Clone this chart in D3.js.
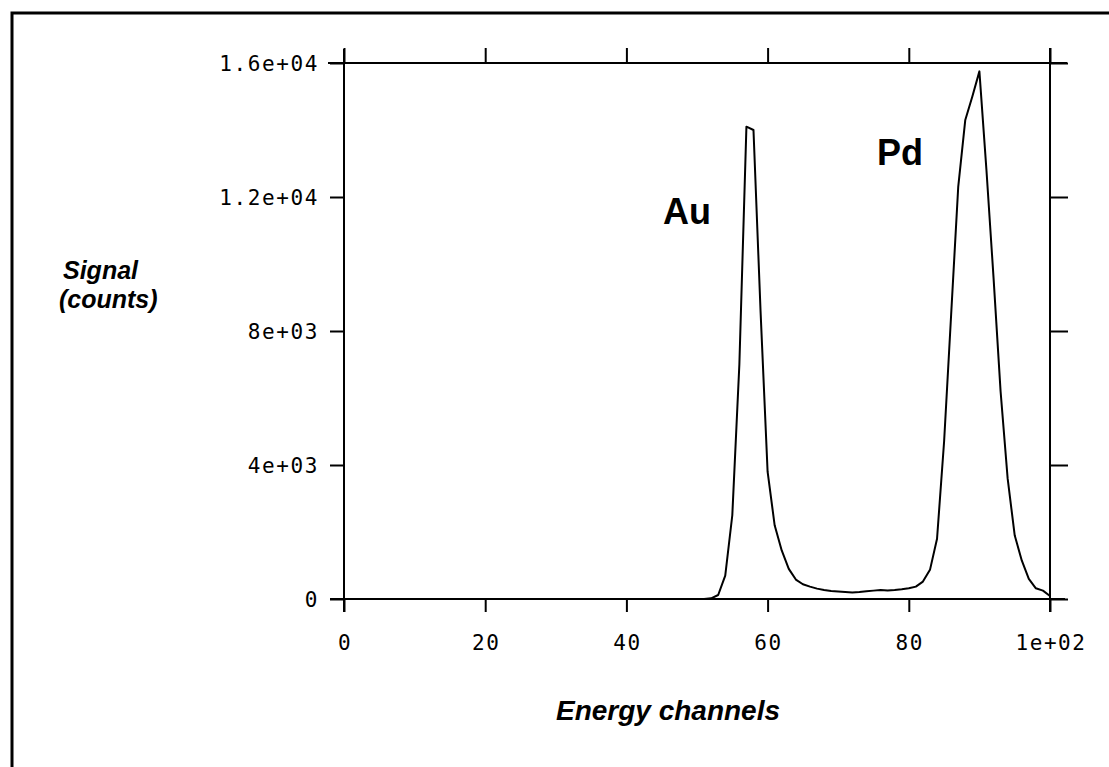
<!DOCTYPE html>
<html>
<head>
<meta charset="utf-8">
<script src="https://cdn.jsdelivr.net/npm/d3@7"></script>
<style>
  body { margin: 0; background: #fff; }
  svg { display: block; }
  .tickLabel { font-family: 'DejaVu Sans Mono', monospace; font-size: 21px; letter-spacing: 1.6px; fill: #000; }
  .axisTitle { font-family: 'Liberation Sans', Arial, sans-serif; font-weight: bold; font-style: italic; fill: #000; }
  .peakLabel { font-family: 'Liberation Sans', Arial, sans-serif; font-weight: bold; fill: #000; }
</style>
</head>
<body>
<div id="chart"></div>
<script>
// constants
const FRAME_WIDTH = 1109;
const FRAME_HEIGHT = 767;
const PLOT = {left: 344, right: 1050, top: 63, bottom: 599};
const TICK = 15;

// data
const channels = d3.range(0, 101);
const counts = [
  0, 0, 0, 0, 0, 0, 0, 0, 0, 0,
  0, 0, 0, 0, 0, 0, 0, 0, 0, 0,
  0, 0, 0, 0, 0, 0, 0, 0, 0, 0,
  0, 0, 0, 0, 0, 0, 0, 0, 0, 0,
  0, 0, 0, 0, 0, 0, 0, 0, 0, 0,
  0, 0, 20, 120, 700, 2500, 7000, 14100, 14000, 8600,
  3800, 2200, 1450, 900, 580, 440, 370, 310, 270, 240,
  225, 210, 195, 210, 230, 250, 270, 255, 270, 290,
  320, 370, 520, 870, 1800, 4700, 8500, 12300, 14300, 15000,
  15750, 12800, 9600, 6200, 3600, 1900, 1150, 600, 320, 250,
  90
];
const xTicks = [0, 20, 40, 60, 80, 100];
const xTickLabels = ['0', '20', '40', '60', '80', '1e+02'];
const yTicks = [0, 4000, 8000, 12000, 16000];
const yTickLabels = ['0', '4e+03', '8e+03', '1.2e+04', '1.6e+04'];
const peakLabels = [
  {text: 'Au', x: 45.2, y: 11200},
  {text: 'Pd', x: 75.5, y: 12950}
];

let svg = d3.select('#chart')
            .append('svg')
            .attr('width', FRAME_WIDTH)
            .attr('height', FRAME_HEIGHT);

// outer frame, runs off the right and bottom edges
svg.append('rect')
   .attr('x', 12)
   .attr('y', 13)
   .attr('width', FRAME_WIDTH + 20)
   .attr('height', FRAME_HEIGHT + 20)
   .attr('fill', 'none')
   .attr('stroke', '#000')
   .attr('stroke-width', 3);

let xScale = d3.scaleLinear().domain([0, 100]).range([PLOT.left, PLOT.right]);
let yScale = d3.scaleLinear().domain([0, 16000]).range([PLOT.bottom, PLOT.top]);

// axes: ticks only, the box lines are drawn longer below
function styleAxis(g) {
    g.select('.domain').remove();
    g.selectAll('.tick line').attr('stroke', '#000').attr('stroke-width', 2);
    g.selectAll('.tick text').remove();
}
svg.append('g').attr('transform', 'translate(0,' + PLOT.bottom + ')')
   .call(d3.axisBottom(xScale).tickValues(xTicks).tickSize(TICK - 2)).call(styleAxis);
svg.append('g').attr('transform', 'translate(0,' + PLOT.top + ')')
   .call(d3.axisTop(xScale).tickValues(xTicks).tickSize(TICK)).call(styleAxis);
svg.append('g').attr('transform', 'translate(' + PLOT.left + ',0)')
   .call(d3.axisLeft(yScale).tickValues(yTicks).tickSize(TICK - 1)).call(styleAxis);
svg.append('g').attr('transform', 'translate(' + PLOT.right + ',0)')
   .call(d3.axisRight(yScale).tickValues(yTicks).tickSize(TICK + 3)).call(styleAxis);

// box lines overshooting the corners
const boxLines = [
    [xScale(0) - 14, yScale(0), xScale(100) + 15, yScale(0)],
    [xScale(0) - 16, yScale(16000), xScale(100) + 17, yScale(16000)],
    [xScale(0), yScale(16000) - 14, xScale(0), yScale(0) + 13],
    [xScale(100), yScale(16000) - 15, xScale(100), yScale(0) + 13]
];
svg.selectAll('line.box')
   .data(boxLines)
   .enter()
   .append('line')
   .attr('class', 'box')
   .attr('x1', d => d[0]).attr('y1', d => d[1])
   .attr('x2', d => d[2]).attr('y2', d => d[3])
   .attr('stroke', '#000')
   .attr('stroke-width', 2);

// tick labels
svg.selectAll('text.xlab')
   .data(xTicks)
   .enter()
   .append('text')
   .attr('class', 'tickLabel xlab')
   .attr('x', d => xScale(d) + 1)
   .attr('y', PLOT.bottom + 51)
   .attr('text-anchor', 'middle')
   .text((d, i) => xTickLabels[i]);

svg.selectAll('text.ylab')
   .data(yTicks)
   .enter()
   .append('text')
   .attr('class', 'tickLabel ylab')
   .attr('x', PLOT.left - 25)
   .attr('y', d => yScale(d) + 8)
   .attr('text-anchor', 'end')
   .text((d, i) => yTickLabels[i]);

// spectrum
let line = d3.line()
             .x((d, i) => xScale(channels[i]))
             .y(d => yScale(d));
svg.append('path')
   .datum(counts)
   .attr('d', line)
   .attr('fill', 'none')
   .attr('stroke', '#000')
   .attr('stroke-width', 2)
   .attr('stroke-linejoin', 'round');

// peak labels
svg.selectAll('text.peak')
   .data(peakLabels)
   .enter()
   .append('text')
   .attr('class', 'peakLabel peak')
   .attr('x', d => xScale(d.x))
   .attr('y', d => yScale(d.y))
   .attr('font-size', '36px')
   .text(d => d.text);

// axis titles
svg.append('text')
   .attr('class', 'axisTitle')
   .attr('x', 668)
   .attr('y', 720)
   .attr('text-anchor', 'middle')
   .attr('font-size', '28px')
   .text('Energy channels');

svg.append('text')
   .attr('class', 'axisTitle')
   .attr('x', 63)
   .attr('y', 279)
   .attr('font-size', '25px')
   .text('Signal');
svg.append('text')
   .attr('class', 'axisTitle')
   .attr('x', 59)
   .attr('y', 308)
   .attr('font-size', '25px')
   .text('(counts)');
</script>
</body>
</html>
